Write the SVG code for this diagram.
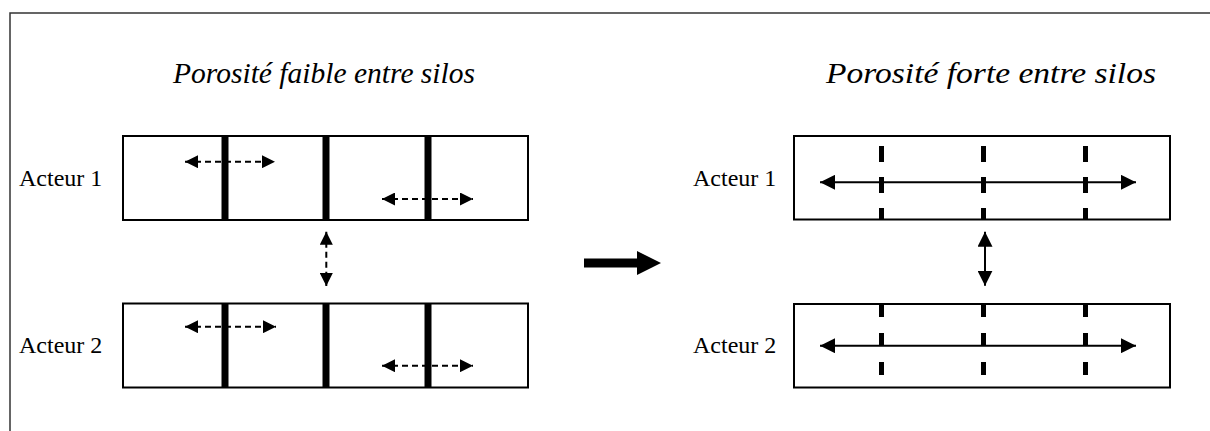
<svg xmlns="http://www.w3.org/2000/svg" width="1210" height="431" viewBox="0 0 1210 431">
<style>
.title{font-family:"Liberation Serif",serif;font-style:italic;font-size:29px;fill:#000}
.lbl{font-family:"Liberation Serif",serif;font-size:24px;fill:#000}
.box{fill:#fff;stroke:#000;stroke-width:2}
.wall{stroke:#000;stroke-width:7}
.pwall{stroke:#000;stroke-width:5}
.dash{stroke:#000;stroke-width:2;stroke-dasharray:6 4;fill:none}
.solid{stroke:#000;stroke-width:2;fill:none}
</style>
<defs>
<marker id="hs" viewBox="0 0 13 13" refX="13" refY="6.5" markerWidth="13" markerHeight="13" markerUnits="userSpaceOnUse" orient="auto-start-reverse"><path d="M0,0 L13,6.5 L0,13 Z" fill="#000"/></marker>
<marker id="hb" viewBox="0 0 15 15" refX="15" refY="7.5" markerWidth="15" markerHeight="15" markerUnits="userSpaceOnUse" orient="auto-start-reverse"><path d="M0,0 L15,7.5 L0,15 Z" fill="#000"/></marker>
</defs>
<g id="frame"><path d="M10,431 V13 H1210" fill="none" stroke="#333" stroke-width="1.5"/></g>
<g id="title-left"><text class="title" x="173" y="83" textLength="302" lengthAdjust="spacingAndGlyphs">Porosité faible entre silos</text></g>
<g id="title-right"><text class="title" x="826" y="83" textLength="330" lengthAdjust="spacingAndGlyphs">Porosité forte entre silos</text></g>
<g id="left-actor1">
<text class="lbl" x="19" y="186">Acteur 1</text>
<rect class="box" x="123" y="136" width="405" height="84"/>
<line class="wall" x1="225" y1="136" x2="225" y2="220"/>
<line class="wall" x1="326" y1="136" x2="326" y2="220"/>
<line class="wall" x1="428" y1="136" x2="428" y2="220"/>
</g>
<g id="left-actor2">
<text class="lbl" x="19" y="353">Acteur 2</text>
<rect class="box" x="123" y="303.5" width="405" height="84"/>
<line class="wall" x1="225" y1="303.5" x2="225" y2="387.5"/>
<line class="wall" x1="326" y1="303.5" x2="326" y2="387.5"/>
<line class="wall" x1="428" y1="303.5" x2="428" y2="387.5"/>
</g>
<g id="right-actor1">
<text class="lbl" x="693" y="186">Acteur 1</text>
<rect class="box" x="794" y="136" width="376" height="83.5"/>
<line class="pwall" x1="881.5" y1="146" x2="881.5" y2="219.5" stroke-dasharray="16 15"/>
<line class="pwall" x1="983.5" y1="146" x2="983.5" y2="219.5" stroke-dasharray="16 15"/>
<line class="pwall" x1="1085.5" y1="146" x2="1085.5" y2="219.5" stroke-dasharray="16 15"/>
</g>
<g id="right-actor2">
<text class="lbl" x="693" y="353">Acteur 2</text>
<rect class="box" x="794" y="304" width="376" height="83.5"/>
<line class="pwall" x1="881.5" y1="304" x2="881.5" y2="387.5" stroke-dasharray="13 16"/>
<line class="pwall" x1="983.5" y1="304" x2="983.5" y2="387.5" stroke-dasharray="13 16"/>
<line class="pwall" x1="1085.5" y1="304" x2="1085.5" y2="387.5" stroke-dasharray="13 16"/>
</g>
<g id="connectors">
<line class="dash" x1="185" y1="161.7" x2="275" y2="161.7" marker-start="url(#hs)" marker-end="url(#hs)"/>
<line class="dash" x1="382" y1="199" x2="473" y2="199" marker-start="url(#hs)" marker-end="url(#hs)"/>
<line class="dash" x1="185" y1="326.7" x2="276" y2="326.7" marker-start="url(#hs)" marker-end="url(#hs)"/>
<line class="dash" x1="382" y1="365.7" x2="473" y2="365.7" marker-start="url(#hs)" marker-end="url(#hs)"/>
<line class="dash" x1="326.3" y1="231.7" x2="326.3" y2="286" marker-start="url(#hs)" marker-end="url(#hs)"/>
<line class="solid" x1="820" y1="182.3" x2="1136" y2="182.3" marker-start="url(#hb)" marker-end="url(#hb)"/>
<line class="solid" x1="820" y1="345.7" x2="1136" y2="345.7" marker-start="url(#hb)" marker-end="url(#hb)"/>
<line class="solid" x1="985" y1="231.7" x2="985" y2="285.7" marker-start="url(#hb)" marker-end="url(#hb)"/>
<path d="M584,258.5 H637 V251 L661,263 L637,275 V267.5 H584 Z" fill="#000"/>
</g>
</svg>
